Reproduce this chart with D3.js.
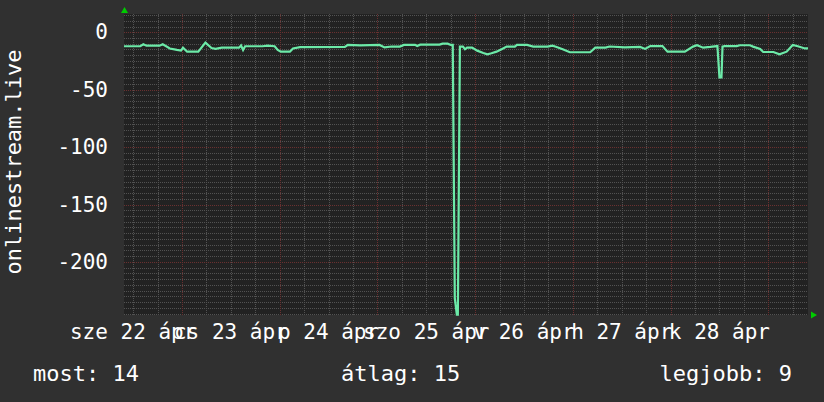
<!DOCTYPE html>
<html><head><meta charset="utf-8">
<script src="https://cdn.jsdelivr.net/npm/d3@7"></script>
<style>
body{margin:0;background:#303030}
svg{display:block}
text{font-family:"DejaVu Sans Mono",monospace;fill:#ffffff;font-size:21px}
</style>
</head><body>
<svg id="c" width="824" height="402"></svg>
<script>
// hours since 2020-04-21 00:00 (local)
const hours = [9.75,13.75,14.5,15.25,18.5,19.25,20,21,22.75,23.75,24.25,25.25,28,29.75,31.25,32.25,33.75,38,38.5,39,39.5,43.75,45,46.75,47.5,48.25,50.5,51.25,53,64,64.75,67.75,72.5,73.75,75.5,77.5,78.5,81.25,81.75,82.5,87.25,88,89.25,90,90.5,91,91.5,91.75,92.25,93,93.5,94,95.25,96.5,98,99,100,101.25,102.5,103.75,105.75,106.25,108.75,110.25,113.75,115,116,117.5,119.25,124.25,125.5,128,129,132.75,136.5,137.75,139,142,143.25,147.5,149.5,150.5,152,153.75,155.5,156,156.5,156.75,157.25,160.25,161,163.5,164.25,166,166.75,169.25,170.75,172.5,174,175.25,177,177.75];
const values = [-12.2,-12.2,-10.5,-11.7,-11.7,-10.5,-12,-14.1,-15.4,-16,-13.4,-16.9,-16.9,-9,-13.7,-14.5,-13.4,-13.4,-11.5,-15.4,-12.2,-12.2,-11.7,-12.2,-15.4,-16.9,-16.9,-14.1,-13,-12.8,-11,-11.5,-11,-13.2,-12.4,-12.5,-11,-11,-12,-10.8,-10.8,-9.9,-9.9,-11,-11,-231.5,-246,-246,-12.5,-12.5,-14.8,-13.4,-13.4,-16,-18,-19.2,-18.3,-16.9,-14.8,-12.5,-12.5,-11,-11,-12.5,-12.5,-11.7,-12.8,-14.8,-17.4,-17.4,-13.4,-13.4,-12.4,-13.2,-12.8,-14.5,-12,-12,-16.9,-16.9,-12.5,-11.3,-13.4,-12.8,-12,-39.2,-39.2,-12.5,-12,-12,-11.3,-11.3,-12.5,-14.5,-17.2,-17.2,-19.2,-16.9,-11,-12.2,-14.1,-14.1];
const labelDays = [22,23,24,25,26,27,28];
const dayLabels = ["sze 22 ápr","cs 23 ápr","p 24 ápr","szo 25 ápr","v 26 ápr","h 27 ápr","k 28 ápr"];
const yTicks = [0,-50,-100,-150,-200];
const yMin = -246.2, yMax = 15.9;
const legendNames = ["most","átlag","legjobb"];
const legendValues = [14,15,9];
const yTitle = "onlinestream.live";

const base = new Date(2020,3,21);
const toDate = h => new Date(base.getTime() + h*3600000);
const svg = d3.select("#c");
const L=124,R=808,T=14,B=315;
const x = d3.scaleTime().domain([toDate(9.75), toDate(177.75)]).range([L,R]);
const y = d3.scaleLinear().domain([yMin,yMax]).range([B,T]);

svg.append("rect").attr("x",L).attr("y",T).attr("width",R-L).attr("height",B-T).attr("fill","#222222");

const g = svg.append("g").attr("shape-rendering","crispEdges");
const minorCol="#525252", majorCol="#6a3030";
// minor horizontal grid
d3.range(-245,16,5).filter(v=>v%50!==0).forEach(v=>{
  const yy=Math.round(y(v));
  g.append("line").attr("x1",L).attr("x2",R).attr("y1",yy+0.5).attr("y2",yy+0.5)
   .attr("stroke",minorCol).attr("stroke-dasharray","1,1");
});
// minor vertical grid
const [d0,d1]=x.domain();
d3.timeHour.every(6).range(d0,d1).filter(d=>d.getHours()!==0).forEach(d=>{
  const xx=Math.round(x(d));
  g.append("line").attr("x1",xx+0.5).attr("x2",xx+0.5).attr("y1",T).attr("y2",B)
   .attr("stroke",minorCol).attr("stroke-dasharray","1,1");
});
// major grid
yTicks.forEach(v=>{
  const yy=Math.round(y(v));
  g.append("line").attr("x1",L).attr("x2",R).attr("y1",yy+0.5).attr("y2",yy+0.5)
   .attr("stroke",majorCol).attr("stroke-dasharray","1,1");
});
d3.timeDay.range(d0,d1).forEach(d=>{
  const xx=Math.round(x(d));
  g.append("line").attr("x1",xx+0.5).attr("x2",xx+0.5).attr("y1",T).attr("y2",B)
   .attr("stroke",majorCol).attr("stroke-dasharray","1,1");
});

// y labels
yTicks.forEach(v=>{
  svg.append("text").attr("x",108).attr("y",y(v)+7).attr("text-anchor","end").text(v);
});
// x labels (centered half a day before the date's midnight)
labelDays.forEach((dd,i)=>{
  const d=new Date(2020,3,dd);
  svg.append("text").attr("x",x(d3.timeHour.offset(d,-12))).attr("y",339)
    .attr("text-anchor","middle").text(dayLabels[i]);
});
// y title
svg.append("text").attr("transform","translate(21,162) rotate(-90)").attr("text-anchor","middle")
  .style("font-size","22px").text(yTitle);

// line
const line = d3.line().x((d,i)=>x(toDate(hours[i]))).y(d=>y(d));
svg.append("path").datum(values).attr("d",line).attr("fill","none")
  .attr("stroke","#6ceaa8").attr("stroke-width",2.2).attr("stroke-linejoin","miter");

// arrows
svg.append("path").attr("d",`M${L-3},${T-1}L${L+4},${T-1}L${L+0.5},${T-7}Z`).attr("fill","#00cc00");
svg.append("path").attr("d",`M${R+3},${B-3.5}L${R+3},${B+3.5}L${R+9},${B}Z`).attr("fill","#00cc00");

// legend
const lx=[33,341,792], anchors=["start","start","end"];
legendNames.forEach((n,i)=>{
  svg.append("text").attr("x",lx[i]).attr("y",381).attr("text-anchor",anchors[i])
    .style("font-size","22px").text(`${n}: ${legendValues[i]}`);
});
</script>
</body></html>
